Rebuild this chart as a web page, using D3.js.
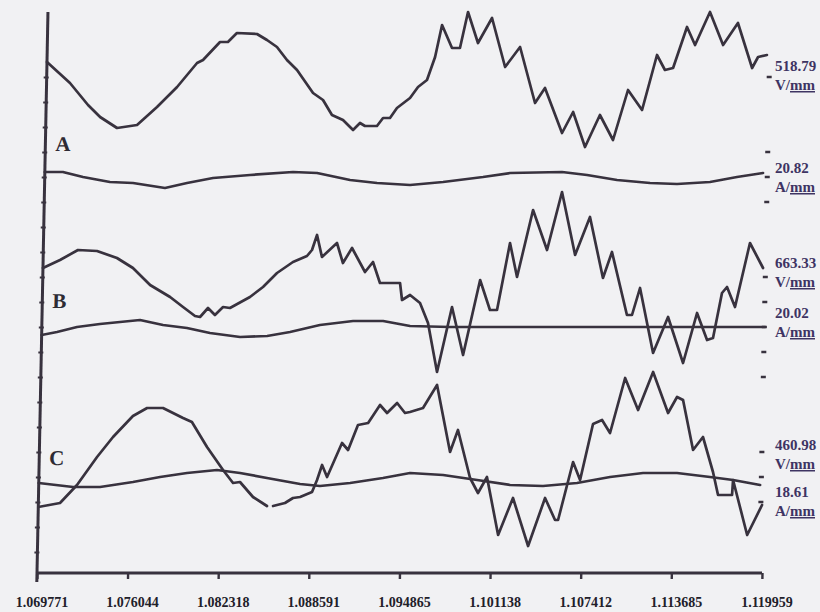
<!DOCTYPE html>
<html>
<head>
<meta charset="utf-8">
<script src="https://cdn.jsdelivr.net/npm/d3@7"></script>
<style>
  html, body { margin: 0; padding: 0; background: #f1f1f3; }
  svg { display: block; }
  .tick-label { font-family: "Liberation Serif", "Times New Roman", serif; font-weight: bold; font-size: 14px; fill: #22202a; }
  .scale-label { font-family: "Liberation Serif", "Times New Roman", serif; font-weight: bold; font-size: 15px; fill: #3e3463; }
  .trace-name { font-family: "Liberation Serif", "Times New Roman", serif; font-weight: bold; font-size: 21px; fill: #2e2b33; }
</style>
</head>
<body>
<svg id="chart" width="820" height="612"></svg>
<script>
// Time axis (s)
const timeTicks = [1.069771, 1.076044, 1.082318, 1.088591, 1.094865, 1.101138, 1.107412, 1.113685, 1.119959];

// Trace deflections in divisions, [time, value]
const voltA = [[1.06977,20.44],[1.07139,19.60],[1.07267,18.72],[1.07352,18.24],[1.07471,17.80],[1.07609,17.92],[1.07745,18.64],[1.07881,19.44],[1.08016,20.40],[1.08057,20.52],[1.08172,21.24],[1.08227,21.24],[1.08288,21.60],[1.08427,21.56],[1.08497,21.32],[1.08567,21.04],[1.08638,20.52],[1.08709,20.12],[1.08823,19.20],[1.08893,18.92],[1.08957,18.32],[1.09034,18.12],[1.09105,17.72],[1.09152,18.00],[1.09187,17.88],[1.09270,17.88],[1.09311,18.20],[1.09359,18.20],[1.09406,18.60],[1.09495,19.00],[1.09549,19.44],[1.09610,19.72],[1.09663,20.64],[1.09707,21.92],[1.09779,21.00],[1.09834,21.00],[1.09885,22.44],[1.09958,21.20],[1.10052,22.20],[1.10149,20.24],[1.10250,21.04],[1.10361,18.80],[1.10428,19.40],[1.10552,17.60],[1.10626,18.44],[1.10713,17.04],[1.10812,18.32],[1.10906,17.32],[1.11003,19.32],[1.11103,18.52],[1.11199,20.72],[1.11256,20.12],[1.11312,20.20],[1.11403,21.84],[1.11461,21.12],[1.11560,22.44],[1.11655,21.12],[1.11755,22.00],[1.11859,20.20],[1.11899,20.64],[1.11960,20.72]];
const currA = [[1.06977,16.04],[1.07102,16.04],[1.07242,15.84],[1.07429,15.64],[1.07589,15.60],[1.07811,15.40],[1.07963,15.60],[1.08142,15.80],[1.08398,15.92],[1.08695,16.04],[1.08862,16.00],[1.09091,15.72],[1.09278,15.60],[1.09507,15.52],[1.09735,15.64],[1.10011,15.84],[1.10198,16.00],[1.10557,16.04],[1.10731,15.92],[1.10939,15.72],[1.11168,15.60],[1.11355,15.56],[1.11583,15.64],[1.11769,15.84],[1.11949,16.00]];
const voltB = [[1.06977,12.20],[1.07094,12.52],[1.07217,12.92],[1.07349,12.88],[1.07488,12.60],[1.07600,12.20],[1.07721,11.52],[1.07861,11.04],[1.07952,10.64],[1.08036,10.28],[1.08071,10.24],[1.08125,10.60],[1.08174,10.32],[1.08229,10.64],[1.08277,10.60],[1.08414,11.04],[1.08503,11.44],[1.08598,12.00],[1.08707,12.44],[1.08803,12.68],[1.08837,12.92],[1.08870,13.52],[1.08907,12.64],[1.09009,13.20],[1.09053,12.40],[1.09114,13.00],[1.09207,12.04],[1.09261,12.44],[1.09312,11.60],[1.09451,11.60],[1.09467,10.92],[1.09522,11.12],[1.09592,10.80],[1.09650,10.00],[1.09719,8.04],[1.09814,10.64],[1.09897,8.72],[1.10005,11.72],[1.10077,10.52],[1.10126,10.52],[1.10207,13.20],[1.10260,11.84],[1.10362,14.52],[1.10464,12.92],[1.10560,15.24],[1.10659,12.72],[1.10757,14.24],[1.10855,11.80],[1.10914,12.84],[1.11026,10.32],[1.11061,10.32],[1.11113,11.40],[1.11212,8.80],[1.11311,10.24],[1.11421,8.40],[1.11511,10.40],[1.11584,9.32],[1.11625,9.40],[1.11681,11.20],[1.11715,11.44],[1.11773,10.64],[1.11868,13.20],[1.11962,12.20]];
const currB = [[1.06977,9.52],[1.07083,9.64],[1.07221,9.84],[1.07379,9.96],[1.07656,10.12],[1.07816,9.92],[1.07982,9.80],[1.08142,9.60],[1.08351,9.44],[1.08538,9.48],[1.08696,9.64],[1.08902,9.92],[1.09131,10.08],[1.09339,10.08],[1.09526,9.88],[1.09803,9.84],[1.10495,9.84],[1.11188,9.84],[1.11984,9.84]];
const voltC = [[1.06977,2.64],[1.07127,2.80],[1.07242,3.52],[1.07377,4.64],[1.07485,5.44],[1.07620,6.28],[1.07717,6.60],[1.07827,6.60],[1.07967,6.20],[1.08029,6.04],[1.08137,5.04],[1.08251,4.12],[1.08322,3.60],[1.08370,3.64],[1.08462,3.04],[1.08560,2.68],null,[1.08602,2.68],[1.08684,2.80],[1.08739,3.00],[1.08788,3.04],[1.08870,3.24],[1.08903,3.72],[1.08936,4.32],[1.08972,3.84],[1.09071,5.20],[1.09114,4.92],[1.09179,5.92],[1.09249,6.00],[1.09329,6.72],[1.09379,6.40],[1.09447,6.80],[1.09503,6.40],[1.09537,6.44],[1.09627,6.60],[1.09721,7.52],[1.09820,4.84],[1.09872,5.72],[1.09962,3.80],[1.10019,3.20],[1.10079,3.84],[1.10164,1.52],[1.10262,3.00],[1.10373,1.08],[1.10484,3.00],[1.10556,2.12],[1.10577,2.12],[1.10673,4.44],[1.10724,3.72],[1.10806,5.96],[1.10868,6.12],[1.10925,5.60],[1.11022,7.80],[1.11116,6.52],[1.11215,8.04],[1.11324,6.40],[1.11384,7.04],[1.11426,6.92],[1.11502,4.92],[1.11569,5.44],[1.11643,4.04],[1.11681,3.12],[1.11778,3.12],[1.11783,3.72],[1.11888,1.52],[1.11987,2.72]];
const currC = [[1.06977,3.60],[1.07215,3.44],[1.07402,3.44],[1.07629,3.64],[1.07816,3.84],[1.08002,4.00],[1.08209,4.12],[1.08369,4.00],[1.08556,3.80],[1.08786,3.56],[1.08924,3.48],[1.09132,3.60],[1.09359,3.80],[1.09546,4.00],[1.09775,3.92],[1.10011,3.72],[1.10240,3.52],[1.10468,3.48],[1.10703,3.60],[1.10931,3.84],[1.11159,4.00],[1.11394,4.00],[1.11623,3.84],[1.11783,3.72],[1.11971,3.52]];

// Division marks on the left and right edges
const leftTicks = [0.84,1.84,2.84,3.84,4.84,5.84,6.84,7.84,8.84,9.84,10.84,11.84,12.84,13.84,14.84,15.84,16.84,17.84,18.84,19.84];
const rightTicks = [19.84,16.84,15.84,14.84,11.84,10.84,9.84,8.84,7.84,4.84,3.84,2.84];

// Trace names and per-channel scale readouts
const traceNames = ["A", "B", "C"];
const scaleValues = ["518.79", "20.82", "663.33", "20.02", "460.98", "18.61"];
const scaleUnits = ["V/", "A/", "V/", "A/", "V/", "A/"];

const svg = d3.select("#chart");
const x = d3.scaleLinear().domain([timeTicks[0], timeTicks[timeTicks.length - 1]]).range([37, 762]);
const y = d3.scaleLinear().domain([0, 22.44]).range([573, 12]);

const ink = "#38323e";

// The recorder sheet is slightly skewed: shear the plot about the time axis
const plot = svg.append("g")
  .attr("transform", `translate(0,${y(0)}) skewX(-1.12) translate(0,${-y(0)})`);

const line = d3.line()
  .defined(d => d != null)
  .x(d => x(d[0]))
  .y(d => y(d[1]))
  .curve(d3.curveLinear);

[voltA, currA, voltB, currB, voltC, currC].forEach(series => {
  plot.append("path")
    .datum(series)
    .attr("d", line)
    .attr("fill", "none")
    .attr("stroke", ink)
    .attr("stroke-width", 2.7)
    .attr("stroke-linejoin", "round")
    .attr("stroke-linecap", "round");
});

// Time axis
const xAxis = d3.axisBottom(x).tickValues(timeTicks).tickSize(6).tickFormat("");
const gx = plot.append("g").attr("transform", `translate(0,${y(0)})`).call(xAxis);
gx.select(".domain").attr("stroke", ink).attr("stroke-width", 2.8).attr("d", `M${x.range()[0]},0H${x.range()[1]}`);
gx.selectAll(".tick line").attr("stroke", ink).attr("stroke-width", 2.4);

// Vertical axis with division marks
const yAxis = d3.axisLeft(y).tickValues(leftTicks).tickSize(3).tickFormat("");
const gy = plot.append("g").attr("transform", `translate(${x.range()[0]},0)`).call(yAxis);
gy.select(".domain").attr("stroke", ink).attr("stroke-width", 3).attr("d", `M0,${y(0) + 9}V${y(22.44)}`);
gy.selectAll(".tick line").attr("stroke", ink).attr("stroke-width", 2.2).attr("x1", 2);

// Right-hand division marks
plot.append("g").selectAll("line").data(rightTicks).join("line")
  .attr("x1", x.range()[1] - 5).attr("x2", x.range()[1])
  .attr("y1", d => y(d)).attr("y2", d => y(d))
  .attr("stroke", ink).attr("stroke-width", 2.4);

// Trace names
const nameY = [151, 308, 465];
plot.append("g").selectAll("text").data(traceNames).join("text")
  .attr("class", "trace-name")
  .attr("x", x.range()[0] + 10)
  .attr("y", (d, i) => nameY[i])
  .text(d => d);

// Time tick labels
svg.append("g").selectAll("text").data(timeTicks).join("text")
  .attr("class", "tick-label")
  .attr("x", d => x(d) + 5)
  .attr("y", 607)
  .attr("text-anchor", "middle")
  .text(d => d.toFixed(6));

// Scale readouts on the right
const valueY = [71, 173, 268, 318, 450, 497];
const gr = svg.append("g");
scaleValues.forEach((v, i) => {
  gr.append("text").attr("class", "scale-label")
    .attr("x", 775).attr("y", valueY[i]).text(v);
  const u = gr.append("text").attr("class", "scale-label")
    .attr("x", 775).attr("y", valueY[i] + 19);
  u.append("tspan").text(scaleUnits[i]);
  u.append("tspan").attr("text-decoration", "underline").text("mm");
});
</script>
</body>
</html>
